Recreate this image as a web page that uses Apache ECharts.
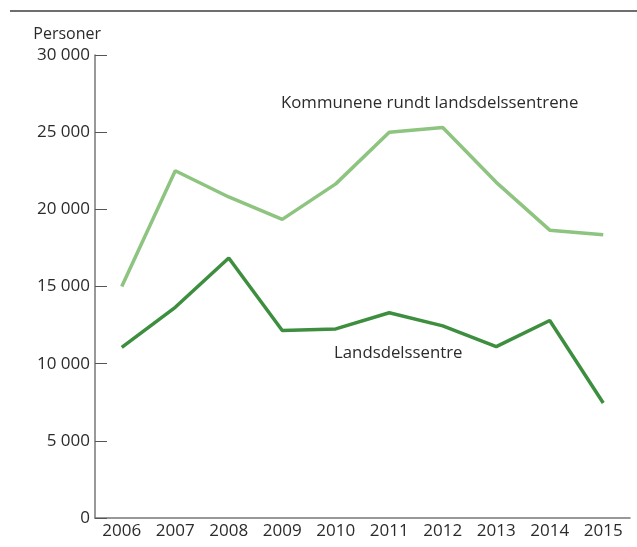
<!DOCTYPE html>
<html>
<head>
<meta charset="utf-8">
<script src="https://cdn.jsdelivr.net/npm/echarts@6/dist/echarts.min.js"></script>
<style>
  html, body { margin: 0; padding: 0; background: #fff; }
  #chart { width: 637px; height: 547px; }
</style>
</head>
<body>
<div id="chart"></div>
<script>
const years = ["2006", "2007", "2008", "2009", "2010", "2011", "2012", "2013", "2014", "2015"];
const kommunene = [15000, 22500, 20800, 19350, 21650, 25000, 25300, 21750, 18650, 18350];
const landsdelssentre = [11050, 13650, 16850, 12150, 12250, 13300, 12450, 11100, 12800, 7450];

const fmt = (v) => String(v).replace(/\B(?=(\d{3})+(?!\d))/g, " ");
const font = "'Open Sans', 'Noto Sans', sans-serif";

var myChart = echarts.init(document.getElementById("chart"));
var option = {
  animation: false,
  textStyle: { fontFamily: font },
  grid: { left: 95, right: 7, top: 55, bottom: 29 },
  graphic: [
    {
      type: "line",
      shape: { x1: 10, y1: 11, x2: 637, y2: 11 },
      style: { stroke: "#6e6e6e", lineWidth: 2 },
    },
    {
      type: "text",
      left: 281, top: 95,
      style: { text: "Kommunene rundt landsdelssentrene", fill: "#2b2b2b", font: "16.8px " + font },
    },
    {
      type: "text",
      left: 334, top: 345,
      style: { text: "Landsdelssentre", fill: "#2b2b2b", font: "16.8px " + font },
    },
  ],
  xAxis: {
    type: "category",
    data: years,
    axisLine: { lineStyle: { color: "#777", width: 1.5 } },
    axisTick: { inside: true, length: 12, alignWithLabel: true, lineStyle: { color: "#555" } },
    axisLabel: { color: "#2b2b2b", fontSize: 17, margin: 5 },
  },
  yAxis: {
    type: "value",
    min: 0,
    max: 30000,
    interval: 5000,
    name: "Personer",
    nameLocation: "end",
    nameGap: 13,
    nameTextStyle: { color: "#2b2b2b", fontSize: 16, align: "right", padding: [0, -6, 0, 0] },
    splitLine: { show: false },
    axisLine: { show: true, lineStyle: { color: "#777", width: 1.5 } },
    axisTick: { show: true, inside: true, length: 12, lineStyle: { color: "#555" } },
    axisLabel: { color: "#2b2b2b", fontSize: 17, margin: 5, formatter: fmt },
  },
  series: [
    {
      name: "Kommunene rundt landsdelssentrene",
      type: "line",
      data: kommunene,
      symbol: "none",
      lineStyle: { color: "#8dc47f", width: 3.5 },
    },
    {
      name: "Landsdelssentre",
      type: "line",
      data: landsdelssentre,
      symbol: "none",
      lineStyle: { color: "#3d8f3f", width: 3.5 },
    },
  ],
};
myChart.setOption(option);
</script>
</body>
</html>
